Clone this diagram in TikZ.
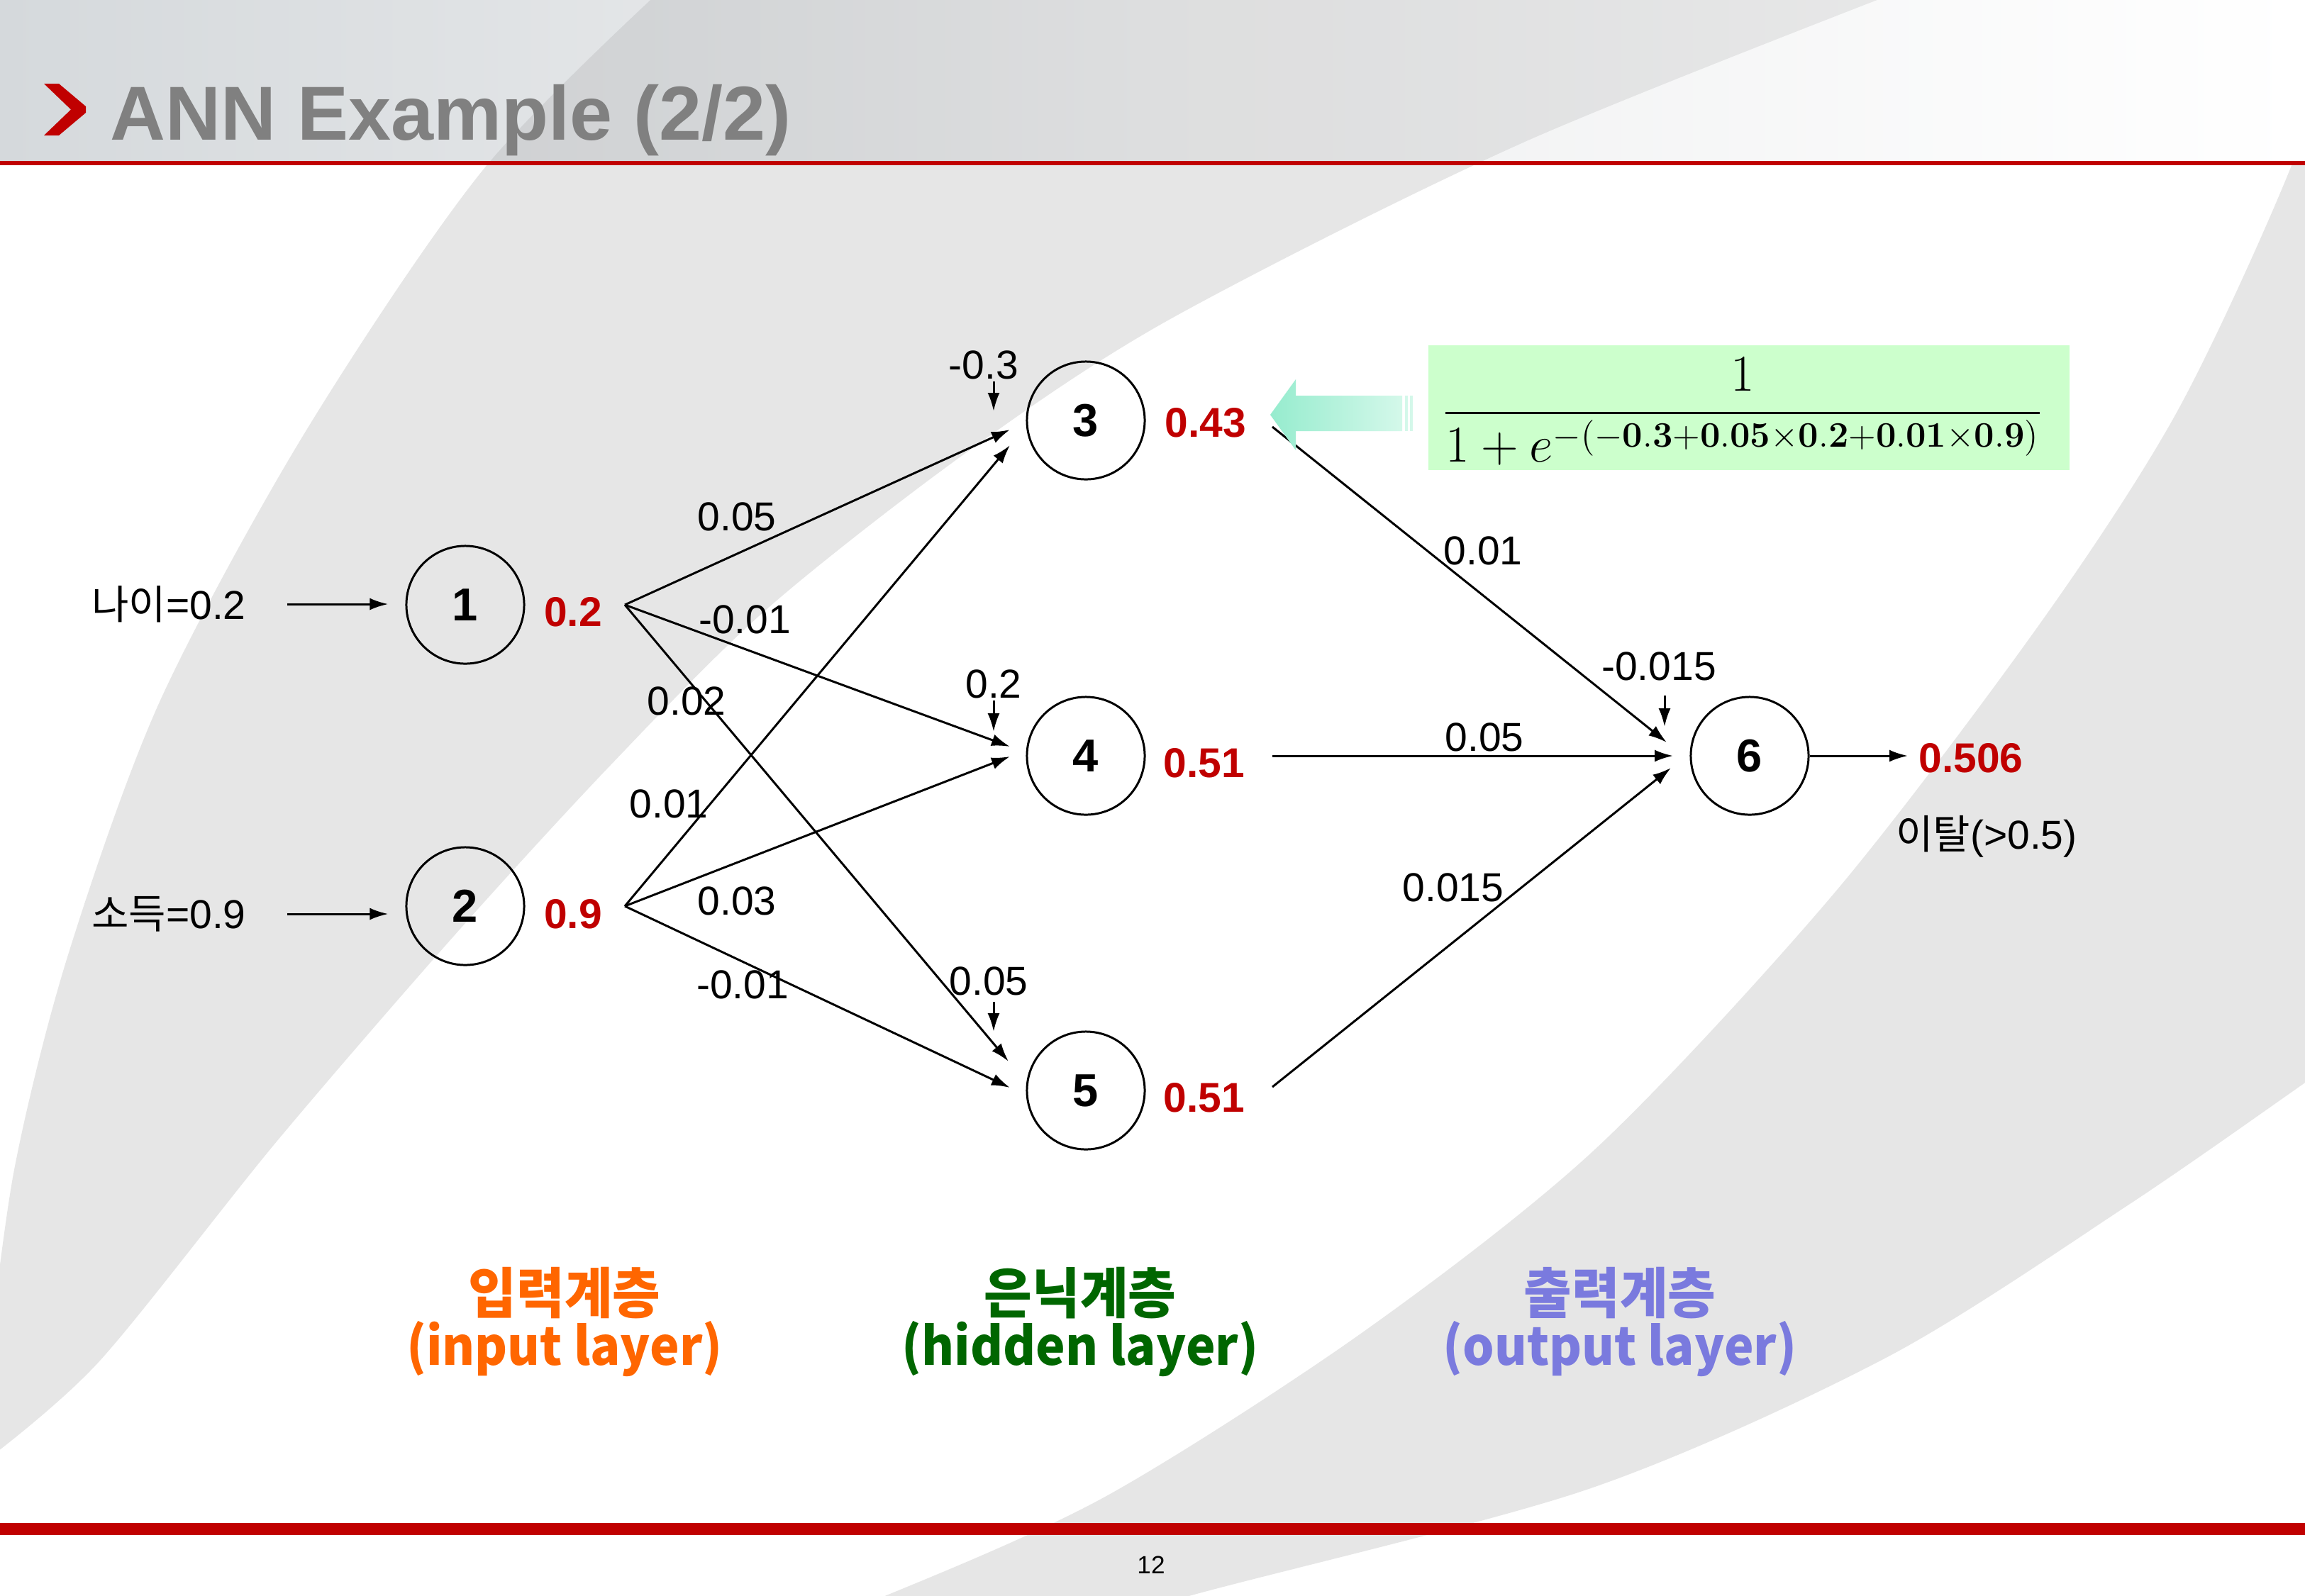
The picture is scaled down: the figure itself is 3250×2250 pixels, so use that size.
\documentclass[tikz,border=0pt]{standalone}
\usepackage[no-math]{fontspec}
\setmainfont{Liberation Sans}
\newfontfamily\kr{Noto Sans CJK KR}
\usepackage{amsmath}
\usetikzlibrary{arrows.meta}

\definecolor{redval}{RGB}{192,0,0}
\definecolor{titlegray}{RGB}{128,128,128}
\definecolor{bandgray}{RGB}{230,230,230}
\definecolor{formgreen}{RGB}{204,255,204}
\definecolor{inorange}{RGB}{255,102,0}
\definecolor{hidgreen}{RGB}{0,102,0}
\definecolor{outblue}{RGB}{122,122,222}
\definecolor{hdrleft}{RGB}{213,217,220}
\definecolor{hdrmid}{RGB}{238,239,240}
\definecolor{mintdark}{RGB}{150,236,206}
\definecolor{mintlight}{RGB}{212,248,234}

\tikzset{
  neuron/.style={circle, draw, line width=0.85pt, minimum size=1.66cm, inner sep=0pt,
    font=\fontsize{18.5}{20}\selectfont\bfseries},
  wlabel/.style={inner sep=0pt, font=\fontsize{16.2}{18}\selectfont},
  outval/.style={inner sep=0pt, text=redval, font=\fontsize{16.7}{18}\selectfont\bfseries},
  link/.style={line width=0.85pt, -{Latex[length=0.26cm,width=0.17cm]}},
  layerkr/.style={inner sep=0pt, font=\kr\fontsize{22}{24}\selectfont\bfseries},
  layeren/.style={inner sep=0pt, font=\kr\fontsize{21}{24}\selectfont\bfseries},
}

\begin{document}
\begin{tikzpicture}[x=0.01cm,y=-0.01cm]
\useasboundingbox (0,0) rectangle (3250,2250);
\fill[white] (0,0) rectangle (3250,2250);

% background swooshes
\begin{scope}
\clip (0,0) rectangle (3250,2250);
\fill[bandgray] plot[smooth] coordinates {(960,-40) (684,236) (430,610) (225,990) (95,1350) (20,1650) (-20,1950)}
  -- plot[smooth] coordinates {(-20,2060) (140,1920) (390,1610) (640,1320) (860,1080) (1080,860) (1360,640) (1650,450) (2150,200) (2750,-40)} -- cycle;
\fill[bandgray] plot[smooth] coordinates {(3320,-40) (3230,236) (3070,580) (2876,880) (2586,1260) (2250,1620) (1920,1880) (1560,2110) (1250,2250) (1050,2320)}
  -- plot[smooth] coordinates {(1450,2320) (1680,2250) (2240,2100) (2661,1914) (3000,1700) (3250,1527) (3400,1420)}
  -- (3400,-40) -- cycle;
% header strip
\shade[left color=hdrleft, right color=white, middle color=hdrmid] (0,0) rectangle (3250,227);
\begin{scope}
\clip (0,0) rectangle (3250,227);
\fill[black, opacity=0.07] plot[smooth] coordinates {(960,-40) (684,236) (430,610)}
  -- plot[smooth] coordinates {(1360,640) (1650,450) (2150,200) (2750,-40)} -- cycle;
\end{scope}
\end{scope}

% title
\fill[redval] (62,118) -- (83,118) -- (121,150) -- (121,159) -- (83,191) -- (62,191) -- (100,154.5) -- cycle;
\node[anchor=base west, inner sep=0pt, text=titlegray, font=\fontsize{30.7}{36}\selectfont\bfseries] (title) at (155,197) {ANN Example (2/2)};
\fill[redval] (0,227) rectangle (3250,233);

% footer
\fill[redval] (0,2148) rectangle (3250,2165);
\node[inner sep=0pt, font=\fontsize{10}{12}\selectfont] (page) at (1623,2207) {12};

% neurons
\node[neuron] (n1) at (656,853) {1};
\node[neuron] (n2) at (656,1278) {2};
\node[neuron] (n3) at (1531,593) {3};
\node[neuron] (n4) at (1531,1066) {4};
\node[neuron] (n5) at (1531,1538) {5};
\node[neuron] (n6) at (2467,1066) {6};

% inputs
\node[wlabel] (in1) at (238,852) {{\kr 나이}=0.2};
\node[wlabel] (in2) at (238,1289) {{\kr 소득}=0.9};
\draw[link, shorten <=0.58cm, shorten >=0.24cm] (in1.east) -- (in1.east -| n1.west);
\draw[link, shorten <=0.58cm, shorten >=0.24cm] (in2.east) -- (in2.east -| n2.west);

% node outputs
\node[outval] (v1) at (808,863) {0.2};
\node[outval] (v2) at (808,1289) {0.9};
\node[outval] (v3) at (1700,596) {0.43};
\node[outval] (v4) at (1698,1076) {0.51};
\node[outval] (v5) at (1698,1548) {0.51};
\node[outval] (v6) at (2779,1069) {0.506};

% connector ports
\coordinate (o1) at (881,853);
\coordinate (o2) at (881,1278);
\coordinate (t3a) at (1424,606);
\coordinate (t3b) at (1424,628);
\coordinate (t4a) at (1424,1053);
\coordinate (t4b) at (1424,1067);
\coordinate (t5a) at (1422,1497);
\coordinate (t5b) at (1424,1534);
\coordinate (s3) at (1794,602);
\coordinate (s4) at (1794,1066);
\coordinate (s5) at (1794,1533);
\coordinate (t6a) at (2350,1047);
\coordinate (t6b) at (2359,1066);
\coordinate (t6c) at (2356,1083);
\coordinate (yend) at (2690,1066);

% input -> hidden
\draw[link] (o1) -- (t3a);
\draw[link] (o1) -- (t4a);
\draw[link] (o1) -- (t5a);
\draw[link] (o2) -- (t3b);
\draw[link] (o2) -- (t4b);
\draw[link] (o2) -- (t5b);
% hidden -> output
\draw[link] (s3) -- (t6a);
\draw[link] (s4) -- (t6b);
\draw[link] (s5) -- (t6c);
\draw[link] (n6.east) -- (yend);

% weights
\node[wlabel] (w13) at (1039,729) {0.05};
\node[wlabel] (w14) at (1050,874) {-0.01};
\node[wlabel] (w15) at (968,989) {0.02};
\node[wlabel] (w23) at (943,1134) {0.01};
\node[wlabel] (w24) at (1039,1271) {0.03};
\node[wlabel] (w25) at (1047,1389) {-0.01};
\node[wlabel] (w36) at (2091,777) {0.01};
\node[wlabel] (w46) at (2093,1040) {0.05};
\node[wlabel] (w56) at (2049,1252) {0.015};

% biases
\node[wlabel] (b3) at (1387,515) {-0.3};
\node[wlabel] (b4) at (1401,965) {0.2};
\node[wlabel] (b5) at (1394,1384) {0.05};
\node[wlabel] (b6) at (2339,940) {-0.015};
\coordinate (b3t) at (1401,580);
\coordinate (b4t) at (1401,1032);
\coordinate (b5t) at (1401,1455);
\coordinate (b6t) at (2347,1025);
\draw[link, shorten <=0.02cm] (b3.south -| b3t) -- (b3t);
\draw[link, shorten <=0.02cm] (b4.south -| b4t) -- (b4t);
\draw[link, shorten <=0.08cm] (b5.south -| b5t) -- (b5t);
\draw[link, shorten <=0.2cm] (b6.south -| b6t) -- (b6t);

% decision
\node[wlabel] (churn) at (2801,1180) {{\kr 이탈}(>0.5)};

% sigmoid of node 3
\node[fill=formgreen, minimum width=9.03cm, minimum height=1.75cm, inner sep=0pt] (fbox) at (2466,575) {};
\node[inner sep=0pt, font=\fontsize{19.6}{24}\selectfont] (sig) at (2457,580)
  {$\displaystyle\frac{1}{1+e^{-(\mathbf{-0.3+0.05\times0.2+0.01\times0.9})}}$};
\shade[left color=mintdark, right color=mintlight]
  (1791,585) -- (1827,535) -- (1827,558) -- (1977,558) -- (1977,608) -- (1827,608) -- (1827,635) -- cycle;
\fill[mintlight] (1981,558) rectangle (1985,608);
\fill[mintlight] (1988,558) rectangle (1992,608);

% layer captions
\node[layerkr, text=inorange] (k1) at (796,1824) {\scalebox{0.95}[1]{입력계층}};
\node[layeren, text=inorange] (e1) at (796,1903) {\scalebox{0.95}[1]{(input layer)}};
\node[layerkr, text=hidgreen] (k2) at (1523,1824) {\scalebox{0.95}[1]{은닉계층}};
\node[layeren, text=hidgreen] (e2) at (1523,1903) {\scalebox{0.95}[1]{(hidden layer)}};
\node[layerkr, text=outblue] (k3) at (2284,1824) {\scalebox{0.95}[1]{출력계층}};
\node[layeren, text=outblue] (e3) at (2284,1903) {\scalebox{0.95}[1]{(output layer)}};
\end{tikzpicture}
\end{document}
